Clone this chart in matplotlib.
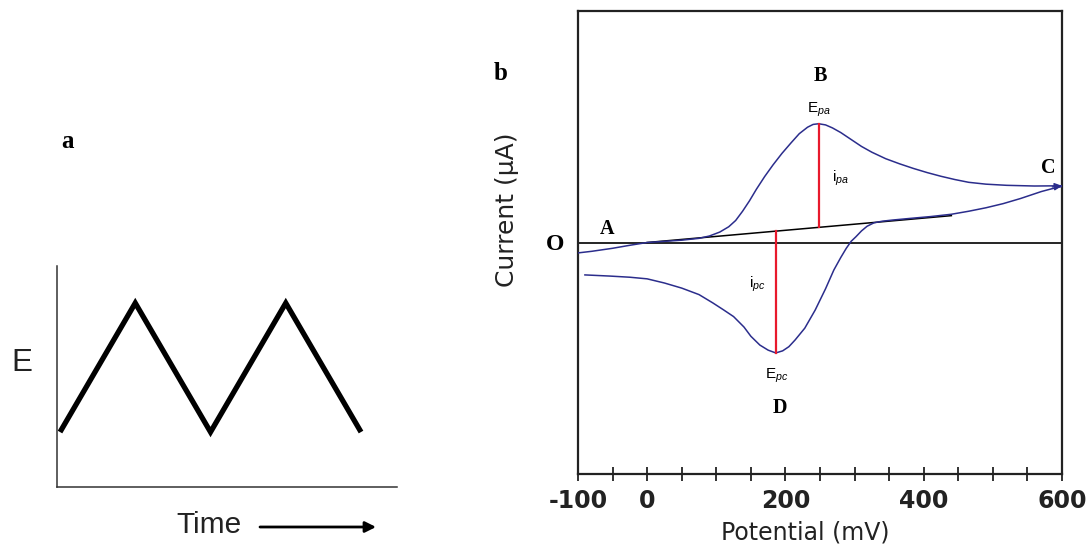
import matplotlib
matplotlib.use("Agg")
import matplotlib.pyplot as plt

plt.rcParams['mathtext.fontset'] = 'custom'
plt.rcParams['mathtext.rm'] = 'Liberation Sans'
plt.rcParams['mathtext.it'] = 'Liberation Sans:italic'

# ---------------- data ----------------
# panel a: triangular potential waveform
time_pts = [0, 1, 2, 3, 4]
e_pts = [0, 1, 0, 1, 0]

# panel b: cyclic voltammogram (potential in mV, current in arbitrary µA units)
E_fwd = [-100, -80, -50, -25, 0, 25, 50, 75, 90, 105, 118, 128, 138, 148, 158,
         170, 182, 195, 208, 220, 232, 240, 248, 258, 268, 280, 295, 310, 325,
         345, 365, 385, 405, 425, 445, 465, 490, 520, 560, 600]
I_fwd = [-0.45, -0.38, -0.25, -0.12, 0.0, 0.05, 0.10, 0.18, 0.28, 0.45, 0.68,
         0.95, 1.35, 1.80, 2.30, 2.85, 3.35, 3.85, 4.30, 4.70, 4.98, 5.10, 5.13,
         5.08, 4.95, 4.75, 4.45, 4.15, 3.90, 3.62, 3.40, 3.20, 3.02, 2.86, 2.72,
         2.60, 2.52, 2.47, 2.44, 2.45]

E_rev = [600, 585, 570, 555, 540, 515, 490, 465, 440, 410, 380, 355, 340, 328,
         318, 310, 302, 295, 288, 280, 270, 258, 243, 228, 214, 205, 196, 186,
         175, 163, 150, 140, 125, 110, 95, 75, 50, 25, 0, -25, -54, -90]
I_rev = [2.42, 2.32, 2.20, 2.05, 1.90, 1.68, 1.50, 1.35, 1.22, 1.12, 1.04, 0.97,
         0.92, 0.85, 0.70, 0.50, 0.25, 0.05, -0.25, -0.65, -1.19, -2.00, -2.92,
         -3.70, -4.21, -4.50, -4.68, -4.77, -4.65, -4.43, -4.05, -3.65, -3.20,
         -2.90, -2.61, -2.25, -1.97, -1.75, -1.57, -1.50, -1.45, -1.40]

base_E = [0, 440]
base_I = [0.0, 1.16]

Epa, ipa_base, ipa_peak = 248, 0.65, 5.13
Epc, ipc_base, ipc_peak = 186, 0.49, -4.77

x_ticks = [-100, -50, 0, 50, 100, 150, 200, 250, 300, 350, 400, 450, 500, 550, 600]
x_tick_labels = ['-100', '', '0', '', '', '', '200', '', '', '', '400', '', '', '', '600']

BLUE = '#2b2d8c'
RED = '#e8192c'
DARK = '#222222'

fig = plt.figure(figsize=(10.91, 5.46), dpi=100)

# ---------------- panel a ----------------
axa = fig.add_axes([57/1091, 1-487/546, 340/1091, 221/546])
axa.plot(time_pts, e_pts, color='black', lw=3.8, solid_joinstyle='miter',
         solid_capstyle='butt')
axa.set_xlim(-0.04, 4.478)
axa.set_ylim(-0.426, 1.287)
for s in ['top', 'right']:
    axa.spines[s].set_visible(False)
for s in ['left', 'bottom']:
    axa.spines[s].set_color('#333333')
    axa.spines[s].set_linewidth(1.1)
axa.set_xticks([])
axa.set_yticks([])
axa.set_ylabel('E', rotation=0, fontsize=22.5, family='Liberation Sans',
               va='center', ha='center', color=DARK)
axa.yaxis.set_label_coords(-0.103, 0.561)
axa.set_xlabel('Time', fontsize=21.5, family='Liberation Sans', va='center',
               ha='center', color=DARK)
axa.xaxis.set_label_coords(0.447, -0.172)
axa.annotate('', xy=(376/1091, 1-527/546), xytext=(260/1091, 1-527/546),
             xycoords='figure fraction', textcoords='figure fraction',
             arrowprops=dict(arrowstyle='-|>', color='black', lw=2.0,
                             mutation_scale=16, shrinkA=0, shrinkB=0))

fig.text(68/1091, 1-141/546, 'a', fontsize=18, family='Liberation Serif',
         weight='bold', ha='center', va='center')
fig.text(501/1091, 1-73/546, 'b', fontsize=18, family='Liberation Serif',
         weight='bold', ha='center', va='center')

# ---------------- panel b ----------------
ax = fig.add_axes([578/1091, 1-474/546, 484/1091, 463/546])
ax.set_xlim(-100, 600)
ax.set_ylim(-10, 10)
ax.axhline(0, color='black', lw=1.2, zorder=1)
ax.plot(base_E, base_I, color='black', lw=1.1, zorder=2)
ax.plot(E_fwd, I_fwd, color=BLUE, lw=1.1, zorder=3)
ax.plot(E_rev, I_rev, color=BLUE, lw=1.1, zorder=3)
ax.plot([Epa, Epa], [ipa_base, ipa_peak], color=RED, lw=1.6, zorder=4)
ax.plot([Epc, Epc], [ipc_base, ipc_peak], color=RED, lw=1.6, zorder=4)
ax.annotate('', xy=(E_fwd[-1], I_fwd[-1]), xytext=(E_fwd[-1]-14, I_fwd[-1]-0.05),
            arrowprops=dict(arrowstyle='-|>', color=BLUE, lw=1.0,
                            mutation_scale=11, shrinkA=0, shrinkB=0))

for s in ax.spines.values():
    s.set_color(DARK)
    s.set_linewidth(1.6)

ax.set_xticks(x_ticks)
ax.set_xticklabels(x_tick_labels, fontsize=17, family='DejaVu Sans',
                   weight='bold', color=DARK)
ax.tick_params(axis='x', direction='inout', length=10, width=1.3, color=DARK,
               pad=6)
ax.set_yticks([0])
ax.set_yticklabels(['O'], fontsize=17, family='Liberation Serif', weight='bold')
ax.tick_params(axis='y', length=0, pad=10)

ax.set_xlabel('Potential (mV)', fontsize=17, family='DejaVu Sans', color=DARK,
              va='center')
ax.xaxis.set_label_coords(0.469, -0.127)
ax.set_ylabel('Current (μA)', fontsize=18, family='DejaVu Sans', color=DARK,
              va='center')
ax.yaxis.set_label_coords(-0.147, 0.57)

serif_bold = dict(family='Liberation Serif', weight='bold', fontsize=14.5,
                  ha='center', va='center')
ax.text(251, 7.21, 'B', **serif_bold)
ax.text(-58, 0.6, 'A', **serif_bold)
ax.text(580, 3.2, 'C', **serif_bold)
ax.text(192, -7.17, 'D', **serif_bold)

small = dict(fontsize=11, family='Liberation Sans', ha='center', va='center')
ax.text(Epa + 1, 5.75, r'E$_{\mathit{pa}}$', **small)
ax.text(279, 2.76, r'i$_{\mathit{pa}}$', **small)
ax.text(160, -1.81, r'i$_{\mathit{pc}}$', **small)
ax.text(Epc + 2, -5.75, r'E$_{\mathit{pc}}$', **small)

fig.savefig('out.png', dpi=100)
